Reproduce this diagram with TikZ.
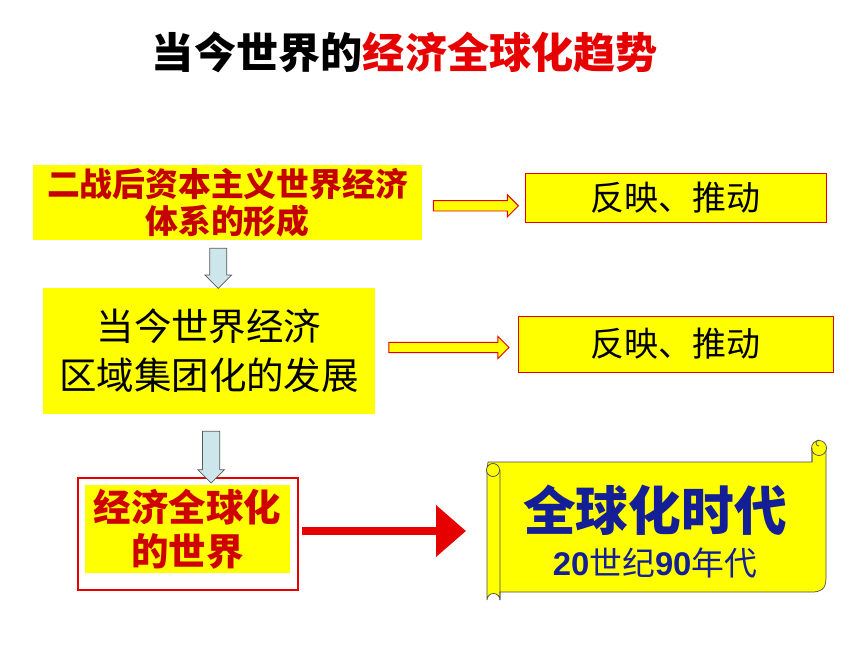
\documentclass[tikz,border=0pt]{standalone}
\usepackage{fontspec}
\setmainfont{Liberation Sans}
\newfontfamily\cjk{Noto Sans CJK SC}
\usetikzlibrary{shapes.arrows, arrows.meta}
\definecolor{boxyellow}{RGB}{255,255,0}
\definecolor{titlered}{RGB}{230,0,0}
\definecolor{deepblue}{RGB}{20,30,150}
\definecolor{paleblue}{RGB}{205,230,235}
\tikzstyle{yellowbox} = [rectangle, fill = boxyellow, inner sep = 0pt, align = center, font = \cjk]
\tikzstyle{result} = [rectangle, fill = boxyellow, draw = titlered, line width = 0.8pt, inner sep = 0pt, align = center, font = \cjk\fontsize{29}{34}\selectfont]
\tikzstyle{hollowright} = [single arrow, draw = titlered, fill = boxyellow, line width = 0.8pt, single arrow head extend = 5pt, minimum height = 2.6cm, inner sep = 4pt]
\tikzstyle{hollowdown} = [single arrow, shape border rotate = 270, draw = gray!70!black, fill = paleblue, line width = 0.6pt, single arrow head extend = 4pt, inner sep = 7pt]
\tikzstyle{redarrow} = [line width = 7pt, titlered, -{Triangle[length = 0.9cm, width = 1.5cm]}]
\begin{document}
\begin{tikzpicture}[x = 0.03cm, y = -0.03cm]
    \useasboundingbox (0,0) rectangle (860,645);
    % title
    \node(title) at (405,52) {\cjk\bfseries\fontsize{36}{40}\selectfont 当今世界的\textcolor{titlered}{经济全球化趋势}};

    % left column
    \node(sys)[yellowbox, minimum width = 11.67cm, minimum height = 2.25cm, font = \cjk\bfseries\fontsize{28}{32}\selectfont\color{titlered!85!black}] at (227.5,202.5) {二战后资本主义世界经济\\体系的形成};
    \node(bloc)[yellowbox, minimum width = 9.96cm, minimum height = 3.78cm, font = \cjk\fontsize{32}{42}\selectfont] at (209,351) {当今世界经济\\区域集团化的发展};
    \draw[titlered, line width = 1.2pt] (78,478) -- (298,478) -- (298,590) -- (78,590) -- cycle;
    \node(glob)[yellowbox, minimum width = 6.15cm, minimum height = 2.64cm, font = \cjk\bfseries\fontsize{32}{38}\selectfont\color{titlered!90!black}] at (187.5,529) {经济全球化\\的世界};

    % right column
    \node(res1)[result, minimum width = 9.03cm, minimum height = 1.47cm] at (675.5,197.5) {反映、推动};
    \node(res2)[result, minimum width = 9.45cm, minimum height = 1.68cm] at (675.5,344) {反映、推动};

    % scroll
    \fill[boxyellow, draw = black!70, line width = 0.6pt] (488,462) -- (812,462) -- (812,448) -- (826,448) -- (826,578) .. controls (826,590) and (820,592) .. (812,592) -- (500,592) -- (500,600) arc (0:-180:6.5) -- (487,470) -- (488,462) -- cycle;
    \filldraw[fill = boxyellow, draw = black!70, line width = 0.6pt] (819,448) circle (7.5) (493,470) circle (6.5);
    \draw[black!70, line width = 0.6pt] (819,446) arc (90:270:3) (500,470) -- (500,600) (812,448) -- (812,462);
    \node(era) at (655,510) {\cjk\bfseries\fontsize{45}{50}\selectfont\color{deepblue}全球化时代};
    \node(decade) at (655,563) {\fontsize{28}{32}\selectfont\color{deepblue}\textbf{20}\cjk 世纪\textbf{\rmfamily 90}年代};
    \coordinate(scroll) at (466,531);

    % connectors
    \path(sys.east) -- (res1.west) node[midway, hollowright, minimum height = 2.55cm, yshift = -5] {};
    \path(bloc.east) -- (res2.west) node[midway, hollowright, minimum height = 3.6cm] {};
    \path(sys.south) -- (bloc.north) node[midway, hollowdown, minimum height = 1.2cm] {};
    \path(bloc.south) -- ([yshift = -0.2cm]glob.north) node[midway, hollowdown, minimum height = 1.55cm, xshift = 11] {};
    \draw[redarrow] (302,531) -- (scroll);
\end{tikzpicture}
\end{document}
